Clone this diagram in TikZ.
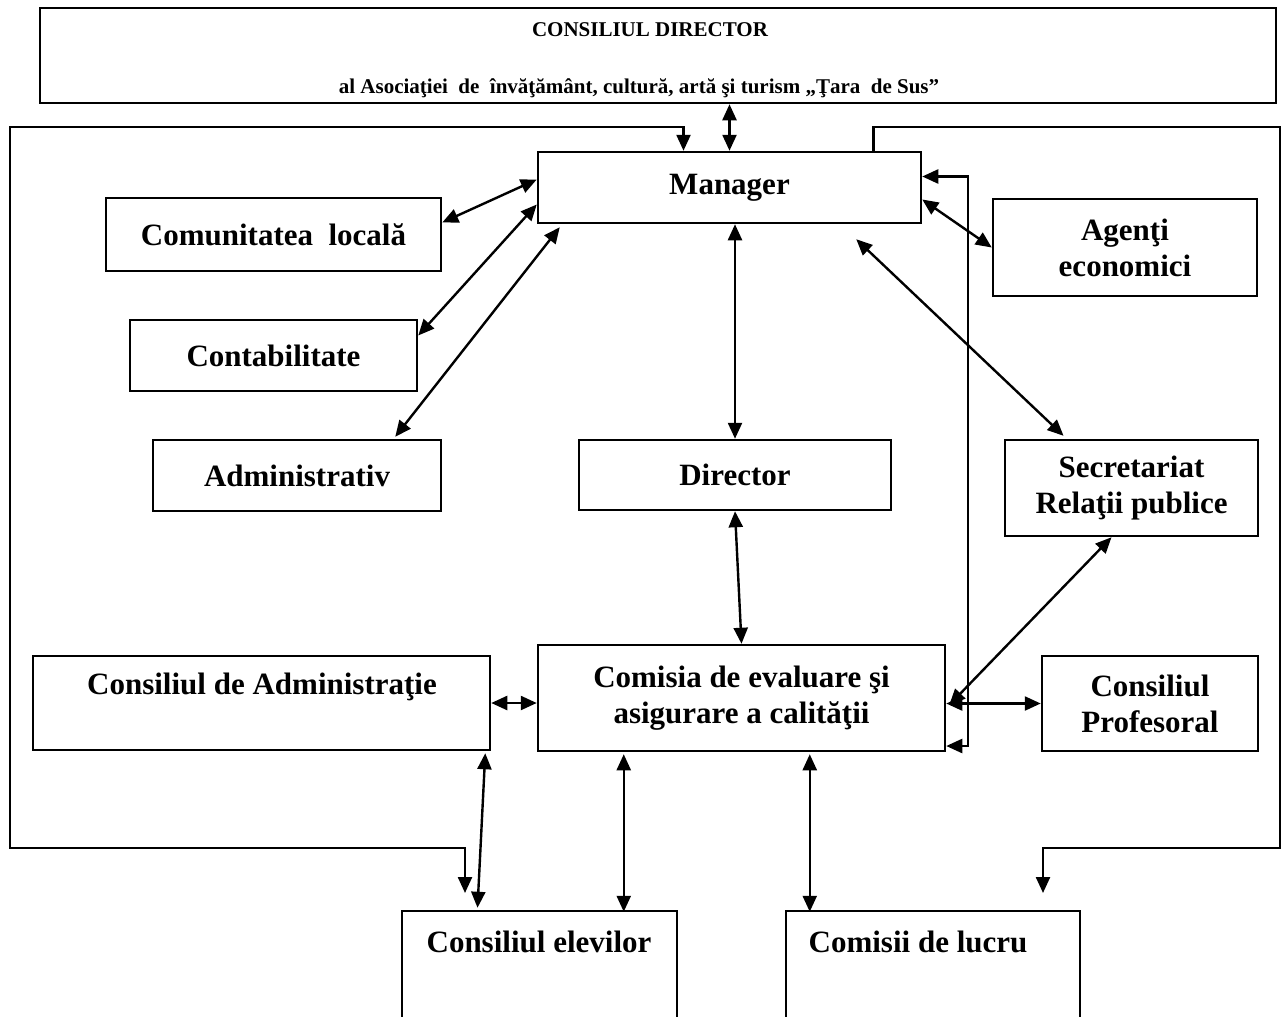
\documentclass[tikz,border=0pt]{standalone}
\usepackage{fontspec}
\setmainfont{Liberation Serif}
\usetikzlibrary{arrows.meta,calc}

\begin{document}
\begin{tikzpicture}[x=1pt,y=-1pt,
  box/.style={draw,line width=2.5pt,rectangle,inner sep=0pt,align=center,font=\bfseries\fontsize{31}{36}\selectfont},
  lbl/.style={inner sep=0pt,align=center,font=\bfseries\fontsize{31}{36}\selectfont},
  small/.style={inner sep=0pt,font=\bfseries\fontsize{21}{25}\selectfont},
  link/.style={line width=2.4pt,{Triangle[length=16pt,width=14pt]}-{Triangle[length=16pt,width=14pt]}},
  feed/.style={line width=2.4pt,-{Triangle[length=16pt,width=14pt]}}]
\useasboundingbox (0,0) rectangle (1282,1017);

%Shape: Rectangle
\node[box,minimum width=1236pt,minimum height=95pt] (dirc) at (658,55.5) {};
% Text Node
\node[small] (dirc1) at (650,30) {CONSILIUL DIRECTOR};
% Text Node
\node[small] (dirc2) at (639,88) {al Asociaţiei\ \ de\ \ învăţământ, cultură, artă şi turism „Ţara\ \ de Sus”};

%Shape: Rectangle
\node[box,minimum width=383pt,minimum height=71pt] (mgr) at (729.5,187.5) {Manager};
\node[box,minimum width=335pt,minimum height=73pt] (comm) at (273.5,234.5) {Comunitatea\ \ locală};
\node[box,minimum width=287pt,minimum height=71pt] (cont) at (273.5,355.5) {Contabilitate};
\node[box,minimum width=288pt,minimum height=71pt] (adm) at (297,475.5) {Administrativ};
\node[box,minimum width=312pt,minimum height=70pt] (dir) at (735,475) {Director};
\node[box,minimum width=264pt,minimum height=97pt] (ag) at (1125,247.5) {Agenţi\\economici};
\node[box,minimum width=253pt,minimum height=96pt] (secr) at (1131.5,488) {Secretariat\\Relaţii publice};
\node[box,minimum width=457pt,minimum height=94pt] (ca) at (261.5,703) {};
\node[box,minimum width=407pt,minimum height=106pt] (com) at (741.5,698) {Comisia de evaluare şi\\asigurare a calităţii};
\node[box,minimum width=216pt,minimum height=95pt] (prof) at (1150,703.5) {Consiliul\\Profesoral};
\node[box,minimum width=275pt,minimum height=119pt] (elevi) at (539.5,970.5) {};
\node[box,minimum width=294pt,minimum height=119pt] (lucru) at (933,970.5) {};

% Text Node
\node[lbl] (catxt) at (262,687) {Consiliul de Administraţie};
% Text Node
\node[lbl] (elevitxt) at (539,942) {Consiliul elevilor};
% Text Node
\node[lbl] (lucrutxt) at (918,942) {Comisii de lucru};

%Coordinates of the outer frame
\coordinate (fTL) at (10,127);
\coordinate (fBL) at (10,848);
\coordinate (fTR) at (1280,127);
\coordinate (fBR) at (1280,848);
\coordinate (eIn) at (465,893);
\coordinate (lIn) at (1043,893);

%Straight Lines
\draw[link] (mgr.north) -- (mgr.north |- dirc.south);
\draw[link] ([yshift=8pt]mgr.west) -- ([yshift=12pt]comm.east);
\draw[link] ([yshift=-17pt]mgr.west) -- ([yshift=20pt]cont.east);
\draw[link] ([xshift=23pt,yshift=-3pt]mgr.south west) -- ([xshift=-47pt,yshift=2pt]adm.north east);
\draw[link] (mgr.south -| dir.north) -- (dir.north);
\draw[link] ([yshift=-12pt]mgr.east) -- (ag.west);
\draw[link] ([shift={(-66pt,-15pt)}]mgr.south east) -- ([xshift=-68pt,yshift=3pt]secr.north);
\draw[link] (dir.south) -- (com.north);
\draw[link] ([xshift=-20pt]secr.south) -- ([xshift=3pt,yshift=-7pt]com.east);
\draw[link] (prof.west) -- (prof.west -| com.east);
\draw[link] (ca.east) -- (ca.east -| com.west);
\draw[link] ([xshift=-6pt,yshift=-2pt]ca.south east) -- ([xshift=-62pt,yshift=2pt]elevi.north);
\draw[link] ([xshift=87pt,yshift=-2pt]com.south west) -- ([xshift=87pt,yshift=-2pt]com.south west |- elevi.north);
\draw[link] ([xshift=273pt,yshift=-2pt]com.south west) -- ([xshift=273pt,yshift=-2pt]com.south west |- lucru.north);

%Outer frame and feedback
\draw[link] (eIn) |- (fBL) -- (fTL) -| ([xshift=-46pt]mgr.north);
\draw[feed] ([xshift=144pt]mgr.north) |- (fTR) -- (fBR) -| (lIn);
\draw[link] ([yshift=11pt]mgr.east) -- ++(46,0) |- ([yshift=-48pt]com.east);

\end{tikzpicture}
\end{document}
